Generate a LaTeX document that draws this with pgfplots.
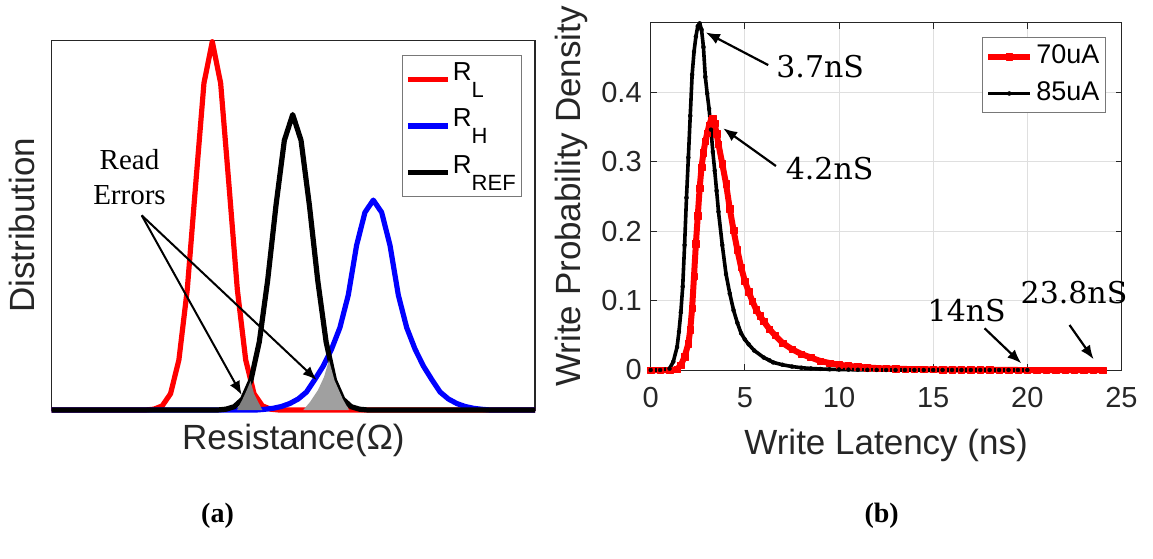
\documentclass[border=0pt]{standalone}
\usepackage{pgfplots}
\pgfplotsset{compat=1.18}
\usepackage{fontspec}
\setmainfont{Liberation Sans}
\newfontfamily\annfont{DejaVu Serif}
\newfontfamily\timesfont{Liberation Serif}
\usetikzlibrary{arrows.meta}
\definecolor{txt}{RGB}{38,38,38}
\definecolor{gridc}{RGB}{223,223,223}
\definecolor{darkfill}{RGB}{128,128,128}
\definecolor{lightfill}{RGB}{160,160,160}
\definecolor{legdraw}{RGB}{120,120,120}
\begin{document}
\begin{tikzpicture}[x=1pt,y=1pt]
\useasboundingbox (0,0) rectangle (576.5,279);
% ---------------- panel (a) ----------------
\begin{axis}[
  at={(25.85pt,74pt)}, anchor=south west, scale only axis,
  width=241.65pt, height=184.65pt,
  xmin=51.7, xmax=535, ymin=0, ymax=370,
  xtick=\empty, ytick=\empty,
  axis line style={line width=0.6pt, black!85},
  clip=false,
  xlabel={Resistance(Ω)},
  xlabel style={at={(axis description cs:0.5,-0.0812)}, anchor=center, font=\fontsize{17.5}{21}\selectfont, text=txt},
  ylabel={Distribution},
  ylabel style={at={(axis description cs:-0.0621,0.5)}, anchor=center, font=\fontsize{17.5}{21}\selectfont, text=txt},
  legend style={at={(0.9725,0.961)}, anchor=north east, draw=legdraw, line width=0.6pt,
    font=\fontsize{13}{13}\selectfont, text=black, inner sep=1.5pt, row sep=3pt,
    nodes={text height=9.5pt, text depth=8.5pt, inner sep=1.2pt}},
  legend cell align=left,
  legend image code/.code={\draw[#1] (0pt,0pt) -- (20pt,0pt);},
]
\addplot[red, line width=2.6pt, line join=round] coordinates {
(51.7,0) (145.5,0) (153.85,0.8) (162.2,4.1) (170.55,16.3) (178.9,50.2) (187.25,120.5)
(195.6,225.0) (203.95,327.4) (212.3,369) (220.65,327.4) (229.0,225.0) (237.35,120.5)
(245.7,50.2) (254.05,16.3) (262.4,4.1) (270.75,0.8) (279.1,0) (535,0)};
\addlegendentry{R\raisebox{-8.5pt}{\fontsize{11}{11}\selectfont L}}
\addplot[blue, line width=2.6pt, line join=round] coordinates {
(51.7,0) (256.4,0) (264.75,0.7) (273.1,1.7) (281.45,3.5) (289.8,6.5) (298.15,11) (306.5,18)
(314.85,30.6) (323.2,44) (331.55,61) (339.9,82.5) (348.25,115) (356.6,165) (364.95,198)
(373.3,210.3) (381.65,198) (390.0,165) (398.35,115) (406.7,82.5) (415.05,61) (423.4,44)
(431.75,30.6) (440.1,18) (448.45,11) (456.8,6.5) (465.15,3.5) (473.5,1.7) (481.85,0.7)
(490.2,0) (535,0)};
\addlegendentry{R\raisebox{-8.5pt}{\fontsize{11}{11}\selectfont H}}
\addplot[black, line width=2.6pt, line join=round] coordinates {
(51.7,0) (217.55,0) (225.9,0.8) (234.25,3.3) (242.6,10.9) (250.95,29.9) (259.3,68.3)
(267.65,129.7) (276.0,205.1) (284.35,270.1) (292.7,296) (301.05,270.1) (309.4,205.1)
(317.75,129.7) (326.1,68.3) (334.45,29.9) (342.8,10.9) (351.15,3.3) (359.5,0.8)
(367.85,0) (535,0)};
\addlegendentry{R\raisebox{-8.5pt}{\fontsize{11}{11}\selectfont REF}}
\addplot[fill=darkfill, draw=none, forget plot] coordinates {
(237,0) (242.6,10.9) (246.8,20) (250.5,29) (254.05,16.3) (258.2,8) (262.4,0)} \closedcycle;
\addplot[fill=lightfill, draw=none, forget plot] coordinates {
(303.3,0) (310,8) (318,20) (324,33) (329,50) (334.45,29.9) (342.8,10.9) (349,0)} \closedcycle;
\node[font=\timesfont\fontsize{14.5}{17.5}\selectfont, align=center] at (axis cs:129.5,233.5) {Read\\Errors};
\draw[-{Latex[length=7pt,width=5.5pt]}, line width=1pt] (axis cs:141.7,195) -- (axis cs:241.7,15);
\draw[-{Latex[length=7pt,width=5.5pt]}, line width=1pt] (axis cs:141.7,195) -- (axis cs:316.7,30);
\end{axis}
% ---------------- panel (b) ----------------
\begin{axis}[
  at={(325.35pt,94pt)}, anchor=south west, scale only axis,
  width=235.4pt, height=173.65pt,
  xmin=0, xmax=25, ymin=0, ymax=0.5,
  xtick={0,5,...,25}, ytick={0,0.1,0.2,0.3,0.4},
  grid=major, major grid style={gridc, line width=0.5pt},
  tick align=inside, major tick length=3pt,
  axis line style={txt, line width=0.5pt},
  tick style={txt, line width=0.5pt},
  ticklabel style={font=\fontsize{14.5}{17}\selectfont, text=txt},
  /pgf/number format/assume math mode=true,
  xticklabel style={yshift=-5pt},
  yticklabel style={xshift=-1pt, /pgf/number format/fixed, /pgf/number format/precision=1},
  scaled y ticks=false,
  clip=false,
  xlabel={Write Latency (ns)},
  xlabel style={at={(axis description cs:0.5,-0.216)}, anchor=center, font=\fontsize{17.5}{21}\selectfont, text=txt},
  ylabel={Write Probability Density},
  ylabel style={at={(axis description cs:-0.168,0.5)}, anchor=center, font=\fontsize{17.5}{21}\selectfont, text=txt},
  legend style={at={(0.967,0.958)}, anchor=north east, draw=legdraw, line width=0.6pt,
    font=\fontsize{13.5}{14}\selectfont, text=black, inner sep=1.5pt, row sep=2.3pt,
    nodes={text height=10pt, text depth=3pt, inner sep=1.5pt}},
  legend cell align=left,
  legend image code/.code={\draw[mark repeat=2, mark phase=2, #1] plot coordinates {(0pt,0pt) (10.5pt,0pt) (21pt,0pt)};},
]
\addplot[red, line width=3pt, line join=round, mark=square*, mark size=1.6pt, mark options={solid, line width=0.2pt}] coordinates {
(0,0) (0.5,0) (1.0,0) (1.4,0.001) (1.6,0.007) (1.8,0.019) (2.0,0.038) (2.1,0.058) (2.2,0.089)
(2.3,0.135) (2.4,0.182) (2.5,0.222) (2.6,0.262) (2.7,0.292) (2.8,0.313) (2.9,0.329) (3.0,0.341)
(3.1,0.352) (3.2,0.360) (3.3,0.362) (3.4,0.355) (3.5,0.340) (3.6,0.325) (3.8,0.297) (4.0,0.268)
(4.2,0.232) (4.4,0.201) (4.6,0.173) (4.8,0.148) (5.0,0.128) (5.2,0.113) (5.4,0.099) (5.6,0.087)
(5.8,0.078) (6.0,0.070) (6.3,0.059) (6.6,0.050) (7.0,0.039) (7.5,0.030) (8.0,0.023) (8.5,0.018)
(9.0,0.013) (9.5,0.010) (10,0.0075) (10.5,0.006) (11,0.0045) (11.5,0.0036) (12,0.0028) (12.5,0.0022)
(13,0.0018) (13.5,0.0015) (14,0.0012) (14.5,0.001) (15,0.0008) (15.5,0.0006) (16,0.0005)
(16.5,0.0004) (17,0.0003) (17.5,0.0002) (18,0.0002) (18.5,0.0001) (19,0.0001) (19.5,0) (20,0)
(20.5,0) (21,0) (21.5,0) (22,0) (22.5,0) (23,0) (23.5,0) (24,0)};
\addlegendentry{70uA}
\addplot[black, line width=1.8pt, line join=round, mark=*, mark size=1pt, mark options={solid, line width=0.2pt}] coordinates {
(0,0) (0.5,0) (1.0,0.002) (1.2,0.012) (1.4,0.033) (1.5,0.055) (1.6,0.083) (1.7,0.120) (1.8,0.180)
(1.9,0.248) (2.0,0.306) (2.1,0.366) (2.2,0.425) (2.3,0.458) (2.4,0.480) (2.5,0.495) (2.6,0.499)
(2.7,0.490) (2.8,0.465) (2.9,0.422) (3.0,0.398) (3.1,0.376) (3.2,0.346) (3.3,0.314) (3.4,0.287)
(3.5,0.258) (3.6,0.228) (3.8,0.180) (4.0,0.138) (4.2,0.110) (4.4,0.086) (4.6,0.068) (4.8,0.053)
(5.0,0.044) (5.2,0.037) (5.5,0.028) (6.0,0.018) (6.3,0.014) (6.5,0.011) (7.0,0.0075) (7.5,0.005)
(8.0,0.0033) (8.5,0.0022) (9.0,0.0015) (9.5,0.001) (10,0.0007) (10.5,0.0005) (11,0.0003) (11.5,0.0002)
(12,0.0001) (12.5,0) (13,0) (13.5,0) (14,0) (14.5,0) (15,0) (15.5,0) (16,0) (16.5,0) (17,0)
(17.5,0) (18,0) (18.5,0) (19,0) (19.5,0) (20,0)};
\addlegendentry{85uA}
\node[font=\annfont\fontsize{15}{18}\selectfont] at (axis cs:9.0,0.437) {3.7nS};
\node[font=\annfont\fontsize{15}{18}\selectfont] at (axis cs:9.5,0.290) {4.2nS};
\node[font=\annfont\fontsize{15}{18}\selectfont] at (axis cs:16.78,0.085) {14nS};
\node[font=\annfont\fontsize{15}{18}\selectfont] at (axis cs:22.48,0.1116) {23.8nS};
\draw[-{Latex[length=7pt,width=5.5pt]}, line width=1.1pt] (axis cs:6.24,0.439) -- (axis cs:2.93,0.486);
\draw[-{Latex[length=7pt,width=5.5pt]}, line width=1.1pt] (axis cs:6.65,0.2937) -- (axis cs:3.85,0.348);
\draw[-{Latex[length=7pt,width=5.5pt]}, line width=1.1pt] (axis cs:17.73,0.060) -- (axis cs:19.68,0.0096);
\draw[-{Latex[length=7pt,width=5.5pt]}, line width=1.1pt] (axis cs:22.24,0.0648) -- (axis cs:23.52,0.0154);
\end{axis}
\node[font=\timesfont\bfseries\fontsize{14}{16}\selectfont] at (108.75,21.25) {(a)};
\node[font=\timesfont\bfseries\fontsize{14}{16}\selectfont] at (440.85,21.25) {(b)};
\end{tikzpicture}
\end{document}
